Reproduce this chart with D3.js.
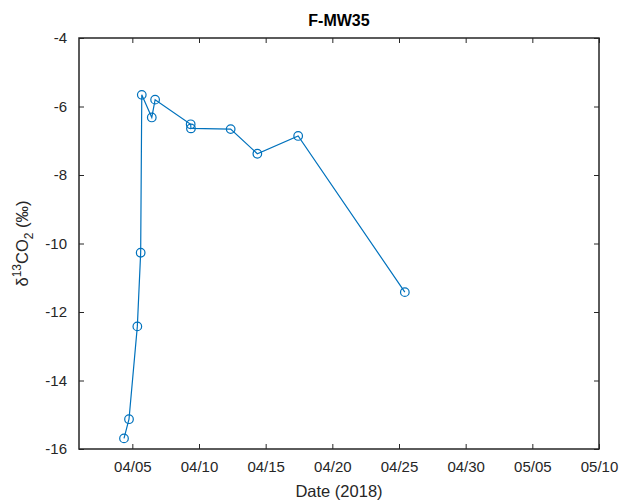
<!DOCTYPE html>
<html>
<head>
<meta charset="utf-8">
<script src="https://cdn.jsdelivr.net/npm/d3@7"></script>
<style>
  html, body { margin: 0; padding: 0; background: #fff; }
  svg { display: block; font-family: "Liberation Sans", Arial, sans-serif; }
</style>
</head>
<body>
<svg id="chart" width="623" height="503"></svg>
<script>
// Sampling times (2018) and measured δ13C of CO2 at well F-MW35
const sampleTimes = [
  "2018-04-04T09:00", "2018-04-04T18:00", "2018-04-05T09:00", "2018-04-05T15:00",
  "2018-04-05T17:00", "2018-04-06T11:00", "2018-04-06T17:00", "2018-04-09T09:00",
  "2018-04-09T09:30", "2018-04-12T09:00", "2018-04-14T09:00", "2018-04-17T10:30",
  "2018-04-25T10:30"
];
const d13CO2 = [
  -15.69, -15.13, -12.42, -10.27,
  -5.66, -6.32, -5.80, -6.52,
  -6.64, -6.66, -7.38, -6.86,
  -11.42
];
const xTickDates = ["2018-04-05", "2018-04-10", "2018-04-15", "2018-04-20",
                    "2018-04-25", "2018-04-30", "2018-05-05", "2018-05-10"];
const yTicks = [-16, -14, -12, -10, -8, -6, -4];
const chartTitle = "F-MW35";
const xTitle = "Date (2018)";

const parse = d3.timeParse("%Y-%m-%dT%H:%M");
const parseDay = d3.timeParse("%Y-%m-%d");
const points = sampleTimes.map((t, i) => ({ t: parse(t), v: d13CO2[i] }));

const margin = { left: 79, right: 24, top: 38, bottom: 54 };
const W = 623, H = 503;
const svg = d3.select("#chart");

const x = d3.scaleTime()
  .domain([parseDay("2018-04-01"), parseDay("2018-05-10")])
  .range([margin.left, W - margin.right]);
const y = d3.scaleLinear()
  .domain([-16, -4])
  .range([H - margin.bottom, margin.top]);

const color = "#0072BD";
const axisColor = "#262626";
const tickLen = 5;
const fmt = d3.timeFormat("%m/%d");
const xt = xTickDates.map(parseDay);

// bottom axis
svg.append("g")
  .attr("transform", `translate(0,${y(-16)})`)
  .call(d3.axisBottom(x).tickValues(xt).tickFormat(fmt).tickSizeInner(-tickLen).tickSizeOuter(0).tickPadding(12))
  .call(g => g.select(".domain").remove())
  .call(g => g.selectAll("line").attr("stroke", axisColor))
  .call(g => g.selectAll("text").attr("fill", axisColor).attr("font-size", 15));

// top axis ticks
svg.append("g")
  .attr("transform", `translate(0,${y(-4)})`)
  .call(d3.axisTop(x).tickValues(xt).tickFormat("").tickSizeInner(-tickLen).tickSizeOuter(0))
  .call(g => g.select(".domain").remove())
  .call(g => g.selectAll("line").attr("stroke", axisColor));

// left axis
svg.append("g")
  .attr("transform", `translate(${x.range()[0]},0)`)
  .call(d3.axisLeft(y).tickValues(yTicks).tickFormat(d3.format("d")).tickSizeInner(-tickLen).tickSizeOuter(0).tickPadding(12))
  .call(g => g.select(".domain").remove())
  .call(g => g.selectAll("line").attr("stroke", axisColor))
  .call(g => g.selectAll("text").attr("fill", axisColor).attr("font-size", 15)
    .text(d => d < 0 ? "-" + Math.abs(d) : d));

// right axis ticks
svg.append("g")
  .attr("transform", `translate(${x.range()[1]},0)`)
  .call(d3.axisRight(y).tickValues(yTicks).tickFormat("").tickSizeInner(-tickLen).tickSizeOuter(0))
  .call(g => g.select(".domain").remove())
  .call(g => g.selectAll("line").attr("stroke", axisColor));

// box
svg.append("rect")
  .attr("x", x.range()[0]).attr("y", y(-4))
  .attr("width", x.range()[1] - x.range()[0])
  .attr("height", y(-16) - y(-4))
  .attr("fill", "none").attr("stroke", axisColor).attr("stroke-width", 1.5);

// series line
svg.append("path")
  .datum(points)
  .attr("fill", "none")
  .attr("stroke", color)
  .attr("stroke-width", 1.2)
  .attr("d", d3.line().x(d => x(d.t)).y(d => y(d.v)));

// markers
svg.append("g").selectAll("circle")
  .data(points)
  .join("circle")
  .attr("cx", d => x(d.t))
  .attr("cy", d => y(d.v))
  .attr("r", 4.3)
  .attr("fill", "none")
  .attr("stroke", color)
  .attr("stroke-width", 1.2);

// title
svg.append("text")
  .attr("x", (x.range()[0] + x.range()[1]) / 2)
  .attr("y", 26)
  .attr("text-anchor", "middle")
  .attr("font-size", 16)
  .attr("font-weight", "bold")
  .attr("fill", "#000")
  .text(chartTitle);

// x-axis title
svg.append("text")
  .attr("x", (x.range()[0] + x.range()[1]) / 2)
  .attr("y", 497)
  .attr("text-anchor", "middle")
  .attr("font-size", 16.5)
  .attr("fill", axisColor)
  .text(xTitle);

// y-axis title: δ13CO2 (‰)
const yl = svg.append("text")
  .attr("transform", `translate(28,${(y(-4) + y(-16)) / 2}) rotate(-90)`)
  .attr("text-anchor", "middle")
  .attr("font-size", 16.5)
  .attr("fill", axisColor);
yl.append("tspan").text("δ");
yl.append("tspan").attr("font-size", 12).attr("dy", -7).text("13");
yl.append("tspan").attr("dy", 7).text("CO");
yl.append("tspan").attr("font-size", 12).attr("dy", 5).text("2");
yl.append("tspan").attr("dy", -5).text(" (‰)");
</script>
</body>
</html>
